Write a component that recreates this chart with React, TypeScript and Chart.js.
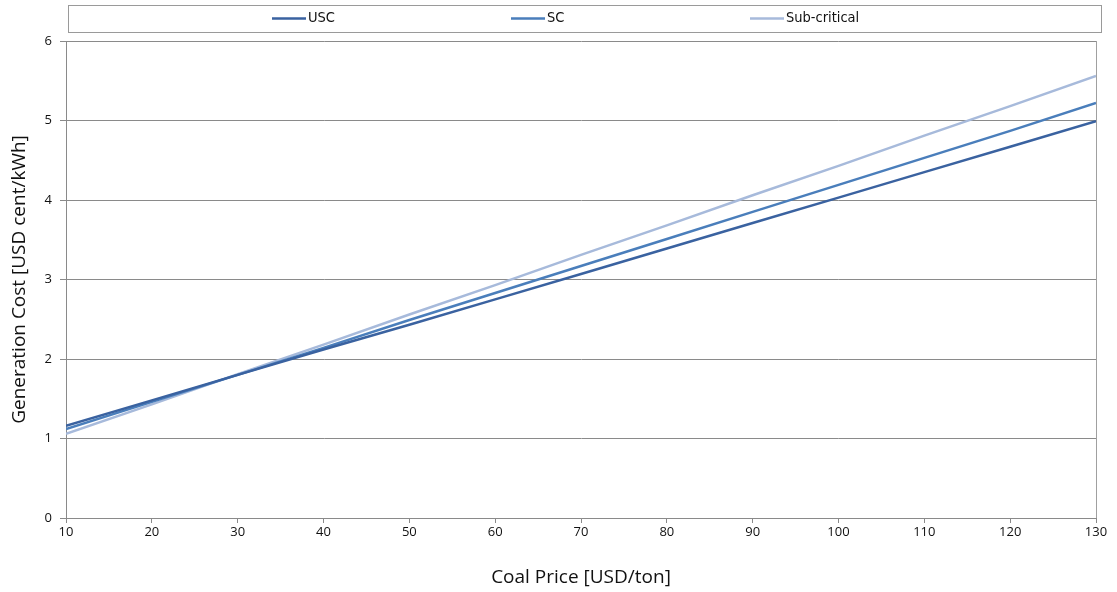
import { useEffect, useRef } from "react";
import { Chart, registerables } from "chart.js";

Chart.register(...registerables);

const coalPrice = [10, 20, 30, 40, 50, 60, 70, 80, 90, 100, 110, 120, 130];
const usc = [1.16, 1.48, 1.8, 2.12, 2.43, 2.75, 3.07, 3.39, 3.71, 4.03, 4.35, 4.67, 4.99];
const sc = [1.12, 1.46, 1.8, 2.14, 2.49, 2.83, 3.17, 3.51, 3.85, 4.19, 4.53, 4.87, 5.22];
const subCritical = [1.06, 1.43, 1.81, 2.18, 2.56, 2.93, 3.31, 3.68, 4.06, 4.43, 4.81, 5.18, 5.56];
const seriesNames = ["USC", "SC", "Sub-critical"];
const seriesColors = ["#3A62A0", "#4A7EBB", "#A7BADB"];
const xTitle = "Coal Price [USD/ton]";
const yTitle = "Generation Cost [USD cent/kWh]";

const tickFont = { family: "'Open Sans', 'Noto Sans', sans-serif", size: 13 };
const titleFont = { family: "'Open Sans', 'Noto Sans', sans-serif", size: 19 };

const legendPlugin = {
  id: "boxLegend",
  afterDraw(chart: any) {
    const ctx = chart.ctx;
    ctx.save();
    const bx = 68.5, by = 5.5, bw = 1033, bh = 27;
    ctx.strokeStyle = "#9a9a9a";
    ctx.lineWidth = 1;
    ctx.strokeRect(bx, by, bw, bh);
    const cy = 18.5;
    ctx.font = "14.5px 'Liberation Sans Narrow', 'DejaVu Sans Condensed', sans-serif";
    ctx.textBaseline = "middle";
    ctx.fillStyle = "#111";
    chart.data.datasets.forEach((ds: any, i: number) => {
      const x0 = 272 + i * 239;
      ctx.strokeStyle = ds.borderColor;
      ctx.lineWidth = 2.5;
      ctx.beginPath();
      ctx.moveTo(x0, cy);
      ctx.lineTo(x0 + 34, cy);
      ctx.stroke();
      ctx.fillText(ds.label, x0 + 36, cy);
    });
    ctx.restore();
  },
};

export default function App() {
  const ref = useRef<HTMLCanvasElement>(null);
  useEffect(() => {
    if (!ref.current) return;
    const series = [usc, sc, subCritical];
    const chart = new Chart(ref.current, {
      type: "line",
      data: {
        datasets: series.map((s, i) => ({
          label: seriesNames[i],
          data: s.map((v, j) => ({ x: coalPrice[j], y: v })),
          borderColor: seriesColors[i],
          backgroundColor: seriesColors[i],
          borderWidth: 2.5,
          pointRadius: 0,
          tension: 0,
        })),
      },
      options: {
        animation: false,
        responsive: false,
        layout: { padding: { top: 41, right: 21, left: 0, bottom: 0 } },
        plugins: { legend: { display: false }, tooltip: { enabled: false } },
        scales: {
          x: {
            type: "linear",
            min: 10,
            max: 130,
            ticks: { stepSize: 10, font: tickFont, color: "#111", padding: 1 },
            grid: {
              color: (c: any) => (c.tick && c.tick.value === 130 ? "#a0a0a0" : "rgba(0,0,0,0)"),
              tickColor: "#8a8a8a",
              tickLength: 5,
              lineWidth: 1,
            },
            border: { color: "#8a8a8a" },
            title: { display: true, text: xTitle, font: titleFont, color: "#111", padding: { top: 0, bottom: 3.5 } },
            afterFit: (s: any) => {
              s.height = 74;
            },
          },
          y: {
            min: 0,
            max: 6,
            ticks: { stepSize: 1, font: tickFont, color: "#111", padding: 8 },
            grid: { color: "#8a8a8a", tickColor: "#8a8a8a", tickLength: 6, lineWidth: 1 },
            border: { color: "#8a8a8a" },
            title: { display: true, text: yTitle, font: titleFont, color: "#111", padding: { top: 8.5, bottom: 0 } },
            afterFit: (s: any) => {
              s.width = 66;
            },
          },
        },
      },
      plugins: [legendPlugin],
    });
    return () => chart.destroy();
  }, []);
  return (
    <div style={{ position: "absolute", left: 0, top: 0, width: 1117, height: 592, background: "#fff" }}>
      <canvas ref={ref} width={1117} height={592} />
    </div>
  );
}
